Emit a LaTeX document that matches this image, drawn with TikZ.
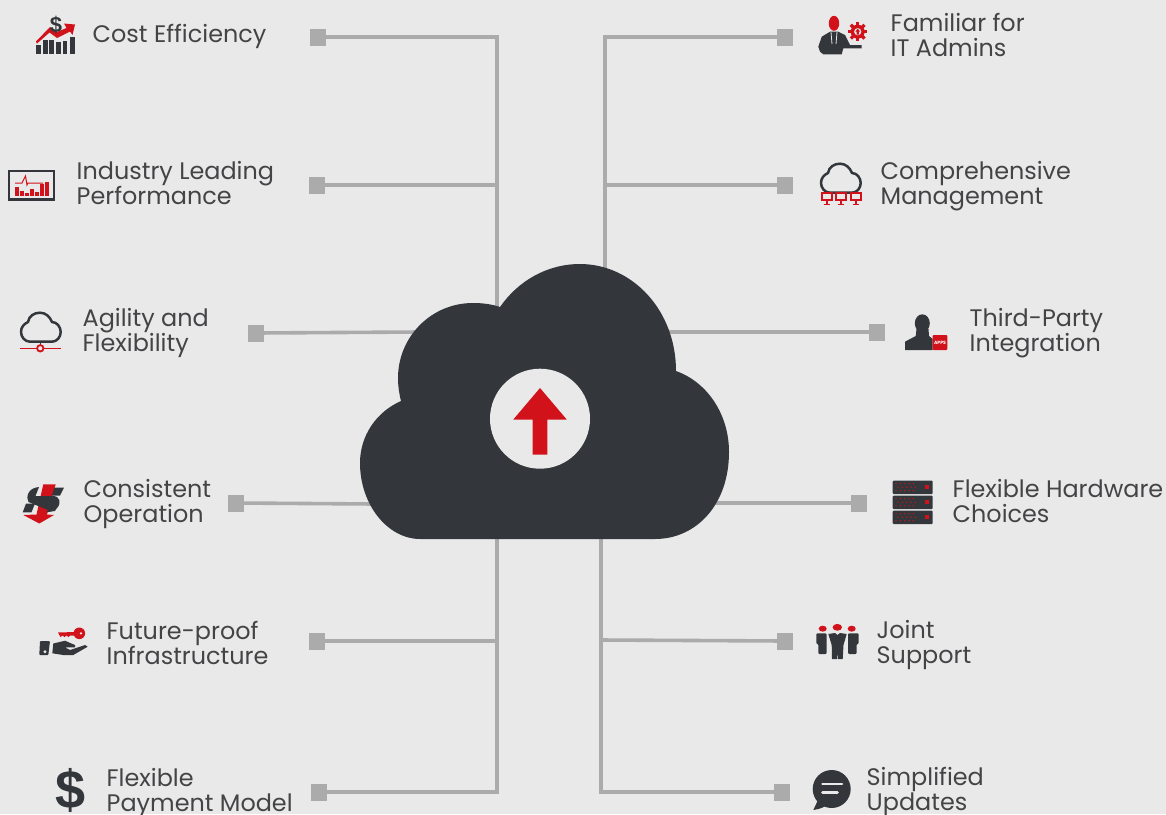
\documentclass[tikz,border=0pt]{standalone}
\usepackage{fontspec}
\setmainfont{Poppins}
\newfontfamily\dollarfont{Liberation Sans}
\definecolor{bgc}{HTML}{E9E9E9}
\definecolor{dk}{HTML}{33373B}
\definecolor{rd}{HTML}{D2121A}
\definecolor{gy}{HTML}{ABABAB}
\definecolor{tx}{HTML}{444447}
\tikzset{
  sq/.style={rectangle,fill=gy,minimum width=15.5pt,minimum height=17pt,inner sep=0pt},
  conn/.style={draw=gy,line width=3.6pt,line join=miter},
  lbl/.style={anchor=west,inner sep=0pt,align=left,text=tx,font=\fontsize{23.9}{25}\selectfont},
  dkl/.style={draw=dk,line width=2.5pt,line join=round,fill=none},
  rdl/.style={draw=rd,line width=2pt,fill=none},
}
\newcommand{\iconcloud}{(30,341.7) .. controls (25,341.7) and (21,337) .. (21,332) .. controls (21,327) and (24,324) .. (28,322) .. controls (29,316) and (34,312.7) .. (40,312.7) .. controls (46,312.7) and (50,317) .. (52,322) .. controls (57,322) and (60.7,327) .. (60.7,332) .. controls (60.7,337) and (57,341.7) .. (52,341.7) -- cycle}
\begin{document}
\begin{tikzpicture}[x=1pt,y=-1pt]
\useasboundingbox (0,0) rectangle (1166,814);
\fill[bgc] (0,0) rectangle (1166,814);
% junctions
\coordinate (jA) at (497,37); \coordinate (jB) at (497,185); \coordinate (jAe) at (497,320);
\coordinate (jC) at (605,37); \coordinate (jD) at (605,185); \coordinate (jCe) at (605,280);
\coordinate (jE) at (497,792); \coordinate (jF) at (497,641); \coordinate (jEe) at (497,530);
\coordinate (jG) at (601,792); \coordinate (jH) at (601,640); \coordinate (jGe) at (601,530);
\coordinate (eL1) at (420,332); \coordinate (eL2) at (375,504);
\coordinate (eR1) at (665,332); \coordinate (eR2) at (710,503);
% end squares
\node[sq] (s1) at (318,37) {};
\node[sq] (s2) at (317,185) {};
\node[sq] (s3) at (256,333) {};
\node[sq] (s4) at (236,503) {};
\node[sq] (s5) at (317,641) {};
\node[sq] (s6) at (319,792) {};
\node[sq] (r1) at (785,37) {};
\node[sq] (r2) at (785,185) {};
\node[sq] (r3) at (877,332) {};
\node[sq] (r4) at (859,503) {};
\node[sq] (r5) at (785,641) {};
\node[sq] (r6) at (782,792) {};
% connectors
\draw[conn] (s1) -- (jA) -- (jAe);
\draw[conn] (s2) -- (jB);
\draw[conn] (s3) -- (eL1);
\draw[conn] (s4) -- (eL2);
\draw[conn] (s6) -- (jE) -- (jEe);
\draw[conn] (s5) -- (jF);
\draw[conn] (r1) -- (jC) -- (jCe);
\draw[conn] (r2) -- (jD);
\draw[conn] (r3) -- (eR1);
\draw[conn] (r4) -- (eR2);
\draw[conn] (r6) -- (jG) -- (jGe);
\draw[conn] (r5) -- (jH);
% central cloud
\fill[dk] (655,539) .. controls (696,539) and (729,505) .. (729,452) .. controls (729,414) and (707,382) .. (676,371)
 .. controls (676,310) and (632,264) .. (580,264) .. controls (547,264) and (518,281) .. (500,307)
 .. controls (491,304) and (482,303) .. (473,303) .. controls (431,303) and (398,337) .. (398,378)
 .. controls (398,386) and (399,393) .. (401,401) .. controls (376,412) and (360,436) .. (360,463)
 .. controls (360,505) and (388,539) .. (420,539) -- cycle;
\node[circle,fill=bgc,minimum size=100pt,inner sep=0pt] (hub) at (540,418.7) {};
\fill[rd] (540,388) -- (566.7,419.5) -- (547.3,419.5) -- (547.3,454.7) -- (532.7,454.7) -- (532.7,419.5) -- (513.3,419.5) -- cycle;
% labels
\node[lbl] (t1) at (92.5,36) {Cost Efficiency};
\node[lbl] (t2) at (76.5,183.5) {Industry Leading\\Performance};
\node[lbl] (t3) at (82.5,333) {Agility and\\Flexibility};
\node[lbl] (t4) at (83.5,504) {Consistent\\Operation};
\node[lbl] (t5) at (106.5,642.5) {Future-proof\\Infrastructure};
\node[lbl] (t6) at (106.5,793) {Flexible\\Payment Model};
\node[lbl] (u1) at (890.5,35) {Familiar for\\IT Admins};
\node[lbl] (u2) at (880.5,186) {Comprehensive\\Management};
\node[lbl] (u3) at (969.5,333) {Third-Party\\Integration};
\node[lbl] (u4) at (952.5,501.5) {Flexible Hardware\\Choices};
\node[lbl] (u5) at (876.5,645) {Joint\\Support};
\node[lbl] (u6) at (866.5,792) {Simplified\\Updates};
% icon: cost efficiency
\foreach \a/\t in {36/45,43.3/40,49.3/40,56/42,62.7/41,70/37}{\fill[dk] (\a,\t) rectangle ++(4.7,54-\t);}
\fill[rd] (36,41.5) -- (50,27) -- (57,32) -- (66.5,28) -- (64,23.5) -- (75,24.5) -- (72.5,35) -- (70,31.5) -- (57,38) -- (49.5,32.5) -- (37,43.5) -- cycle;
\node[inner sep=0pt,text=dk,font=\dollarfont\bfseries\fontsize{22}{22}\selectfont] (i1) at (56,25) {\$};
% icon: performance
\draw[draw=dk,line width=2.6pt] (9,171) rectangle (54,199.5);
\foreach \a/\t in {15/187,20/191,25/193,30/188.5,35/192,40/183.5,45/181.5}{\fill[rd] (\a,\t) rectangle ++(3.8,195.5-\t);}
\draw[rd,line width=1pt] (15,183) -- (22,183) -- (24,179) -- (25.5,176) -- (27,185) -- (28,183) -- (43,183);
% icon: agility
\draw[dkl] \iconcloud;
\draw[draw=dk,line width=1.6pt] (40.3,342) -- (40.3,345);
\draw[rdl,line width=1.6pt] (20,348.3) -- (60.7,348.3);
\node[circle,draw=rd,fill=bgc,line width=1.8pt,minimum size=6.4pt,inner sep=0pt] (i3) at (40.3,348.3) {};
% icon: consistent
\fill[rd] (43.3,484.3) -- (55.7,484.3) -- (47,514.5) -- (54,515) -- (39.3,523.5) -- (23.3,515) -- (36.5,514.5) -- cycle;
\fill[dk] (54.5,487.5) -- (64,487.5) -- (60,495.7) -- (51.7,495.7) -- cycle;
\fill[dk] (39,487) -- (35.5,496) -- (53,496) .. controls (60,496) and (61,503) .. (58,507) .. controls (55.5,510) and (52,510.5) .. (49,510.5) -- (28.5,502) .. controls (26,498) and (27,488) .. (39,487) -- cycle;
\fill[dk] (26,503.5) -- (35,503.5) -- (31.5,512.3) -- (22.7,512.3) -- cycle;
\fill[dk] (50,505) -- (59,504) -- (55,511) -- (46.7,512.3) -- cycle;
% icon: future-proof
\fill[rd] (58,632.5) -- (75,632) -- (75,635.5) -- (70,635.5) -- (68.5,637) -- (66.5,635.5) -- (64.5,637) -- (62.5,635.5) -- (60.5,637) -- cycle;
\fill[rd] (79.3,633.3) circle (5.8);
\fill[bgc] (81,633.3) circle (1.3);
\fill[dk,rounded corners=1pt] (40,641) -- (50,641) -- (48.3,655.2) -- (39.3,655.2) -- cycle;
\fill[bgc] (45,651.7) circle (1.6);
\fill[dk] (53.3,643.5) -- (65,640.7) -- (75,645) -- (75,647.3) -- (65,647.3) -- (70,650) -- (85,645) -- (87.7,646.7) -- (73.3,655) -- (63.3,655) -- (52.3,653.3) -- cycle;
% icon: dollar
\node[inner sep=0pt,text=dk,font=\dollarfont\bfseries\fontsize{54}{54}\selectfont] (i6) at (71,790.5) {\$};
% icon: familiar
\fill[rd] (834,23.3) ellipse (5.2 and 7.5);
\fill[dk] (818.3,46.7) -- (821.7,36.7) -- (830,31.7) -- (838.3,31.7) -- (845,35) -- (850,45) -- (861.7,45) -- (861.7,48.3) -- (843.3,48.3) -- (841.7,54.3) -- (823.3,54.3) -- (820,51.7) -- cycle;
\draw[bgc,line width=.8pt] (831,32) -- (832,44);
\draw[bgc,line width=.8pt] (837,32) -- (836,44);
\foreach \r in {0,45,...,315}{\fill[rd] (857.7,31.7) ++(\r:5) ++(\r+90:-1.6) -- ++(\r:4.7) -- ++(\r+90:3.2) -- ++(\r:-4.7) -- cycle;}
\fill[rd] (857.7,31.7) circle (7);
\fill[bgc] (857.7,31.7) circle (3.6);
\fill[rd] (857.7,28.6) -- (860,31.5) -- (858.8,31.5) -- (858.8,34.6) -- (856.6,34.6) -- (856.6,31.5) -- (855.4,31.5) -- cycle;
% icon: comprehensive
\begin{scope}[shift={(800,-149)}]
\draw[dkl] \iconcloud;
\end{scope}
\foreach \a in {821.7,836,850.7}{
  \draw[rdl,line width=2.4pt] (\a,192.8) rectangle ++(10.2,7.2);
  \draw[rdl,line width=1.6pt] (\a+5.1,200) -- (\a+5.1,204.5);
  \draw[rdl,line width=1.4pt] (\a+1.8,204.7) -- (\a+8.4,204.7);
}
% icon: third-party
\fill[dk] (922.3,323.3) ellipse (7.5 and 9);
\fill[dk] (905,350) -- (905,341.7) -- (915.7,336) -- (916.5,329) -- (928.5,329) -- (929,336) -- (932.7,339) -- (932.7,350) -- cycle;
\node[rounded corners=1pt,fill=rd,text=white,minimum width=14.6pt,minimum height=15pt,inner sep=0pt,font=\bfseries\fontsize{4.6}{5}\selectfont] (i9) at (940,342.5) {APPS};
% icon: servers
\foreach \t in {480.7,495.7,510.7}{
  \fill[dk,rounded corners=1pt] (892.7,\t) rectangle ++(40,13.4);
  \fill[rd] (925,\t+4.7) rectangle ++(4,4);
  \foreach \dx in {0,4.3,8.6,13,17.3}{
    \fill[rd] (896+\dx,\t+3) circle (.75);
    \fill[rd] (898+\dx,\t+6.5) circle (.75);
    \fill[rd] (896+\dx,\t+10) circle (.75);
  }
}
% icon: joint support
\fill[rd] (822.7,628.7) ellipse (4 and 3);
\fill[rd] (837.3,627.3) ellipse (4.7 and 3.4);
\fill[rd] (851.7,628.7) ellipse (4 and 3);
\fill[dk,rounded corners=1pt] (816.3,633.3) -- (826.5,633.3) -- (826.5,654) -- (818.3,654) -- (818.3,644) -- (816.3,644) -- cycle;
\fill[dk,rounded corners=1pt] (848,633.3) -- (858.7,633.3) -- (858.7,644) -- (856.5,644) -- (856.5,654) -- (848,654) -- cycle;
\fill[dk] (828.3,634) -- (835,633) -- (837.5,635) -- (840,633) -- (846.7,634) -- (843.5,645) -- (842.7,659) -- (838,659) -- (837.5,652) -- (837,659) -- (832,659) -- (831.7,645) -- cycle;
% icon: simplified
\fill[dk] (831.7,789) circle (19);
\fill[dk] (818,800) -- (813.3,810) .. controls (820,809) and (825,807) .. (828,804) -- cycle;
\draw[bgc,line width=2.6pt,line cap=round] (822.5,784) -- (842,784);
\draw[bgc,line width=2.6pt,line cap=round] (822.5,792.7) -- (837.5,792.7);
\end{tikzpicture}
\end{document}
